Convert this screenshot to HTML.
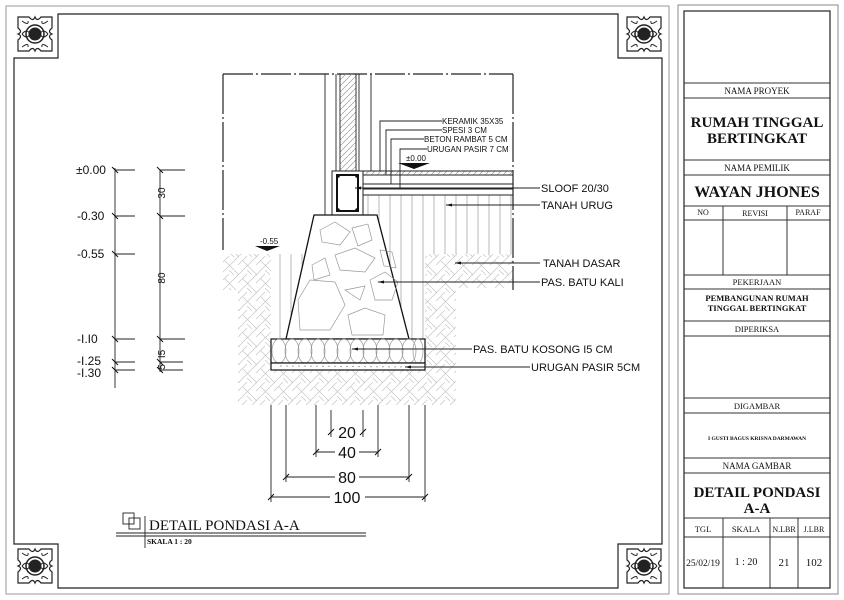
<!DOCTYPE html>
<html><head><meta charset="utf-8"><style>
html,body{margin:0;padding:0;background:#fff;}
svg{display:block;}
.s{font-family:"Liberation Sans",sans-serif;}
.r{font-family:"Liberation Serif",serif;}
</style></head><body>
<svg width="844" height="600" viewBox="0 0 844 600" xmlns="http://www.w3.org/2000/svg">
<defs>
<pattern id="ground" width="18" height="18" patternUnits="userSpaceOnUse">
<path d="M0,9 L9,0 M4,13 L13,4 M9,18 L18,9 M9,9 L18,18 M13,0 L18,5 M0,0 L5,5" stroke="#c4c4c4" stroke-width="0.7" fill="none"/>
</pattern>
<pattern id="vert" width="11" height="10" patternUnits="userSpaceOnUse">
<path d="M5,0 V10" stroke="#999" stroke-width="0.7"/>
</pattern>
<pattern id="diag" width="6" height="6" patternUnits="userSpaceOnUse">
<path d="M0,6 L6,0" stroke="#999" stroke-width="0.7"/>
</pattern>
<g id="orn">
<rect x="0" y="0" width="40" height="40" fill="#fff"/>
<path d="M3,3 H14 Q18,8 20,3 Q22,8 26,3 H37 V14 Q32,18 37,20 Q32,22 37,26 V37 H26 Q22,32 20,37 Q18,32 14,37 H3 V26 Q8,22 3,20 Q8,18 3,14 Z" fill="none" stroke="#222" stroke-width="1.2"/>
<path d="M7,7 Q14,12 13,7 M33,7 Q26,12 27,7 M7,33 Q14,28 13,33 M33,33 Q26,28 27,33 M7,20 Q12,14 15,20 Q12,26 7,20 M33,20 Q28,14 25,20 Q28,26 33,20" fill="none" stroke="#222" stroke-width="1"/>
<circle cx="20" cy="20" r="9" fill="none" stroke="#222" stroke-width="1.5"/>
<circle cx="20" cy="20" r="6.5" fill="#222"/>
</g>
</defs>

<rect x="6" y="6" width="663" height="588" fill="none" stroke="#999" stroke-width="1"/>
<path d="M58,14 H618 V58 H662 V544 H618 V588 H58 V544 H14 V58 H58 Z" fill="none" stroke="#222" stroke-width="1.2"/>
<use href="#orn" x="15" y="14"/>
<use href="#orn" x="624" y="14"/>
<use href="#orn" x="15" y="546"/>
<use href="#orn" x="624" y="546"/>

<rect x="678" y="5" width="160" height="589" fill="none" stroke="#888" stroke-width="1"/>
<rect x="684" y="11" width="146" height="577" fill="none" stroke="#222" stroke-width="1.2"/>
<g stroke="#333" stroke-width="1">
<line x1="684" y1="83" x2="830" y2="83"/><line x1="684" y1="98" x2="830" y2="98"/>
<line x1="684" y1="160" x2="830" y2="160"/><line x1="684" y1="175" x2="830" y2="175"/>
<line x1="684" y1="206" x2="830" y2="206"/><line x1="684" y1="220" x2="830" y2="220"/>
<line x1="684" y1="275" x2="830" y2="275"/><line x1="684" y1="289" x2="830" y2="289"/>
<line x1="684" y1="321" x2="830" y2="321"/><line x1="684" y1="336" x2="830" y2="336"/>
<line x1="684" y1="398" x2="830" y2="398"/><line x1="684" y1="413" x2="830" y2="413"/>
<line x1="684" y1="458" x2="830" y2="458"/><line x1="684" y1="473" x2="830" y2="473"/>
<line x1="684" y1="518" x2="830" y2="518"/><line x1="684" y1="537" x2="830" y2="537"/>
<line x1="723" y1="206" x2="723" y2="275"/><line x1="787" y1="206" x2="787" y2="275"/>
<line x1="723" y1="518" x2="723" y2="588"/><line x1="770" y1="518" x2="770" y2="588"/><line x1="798" y1="518" x2="798" y2="588"/>
</g>
<g class="r" text-anchor="middle" fill="#111">
<text x="757" y="94" font-size="9">NAMA PROYEK</text>
<text x="757" y="127" font-size="15" font-weight="bold">RUMAH TINGGAL</text>
<text x="757" y="143" font-size="15" font-weight="bold">BERTINGKAT</text>
<text x="757" y="171" font-size="9">NAMA PEMILIK</text>
<text x="757" y="197" font-size="16" font-weight="bold">WAYAN JHONES</text>
<text x="703" y="215" font-size="8">NO</text>
<text x="755" y="216" font-size="8">REVISI</text>
<text x="808" y="215" font-size="8">PARAF</text>
<text x="757" y="285" font-size="8.5">PEKERJAAN</text>
<text x="757" y="301" font-size="8.5" font-weight="bold">PEMBANGUNAN RUMAH</text>
<text x="757" y="311" font-size="8.5" font-weight="bold">TINGGAL  BERTINGKAT</text>
<text x="757" y="332" font-size="8.5">DIPERIKSA</text>
<text x="757" y="409" font-size="8.5">DIGAMBAR</text>
<text x="757" y="440" font-size="5.5" font-weight="bold">I GUSTI BAGUS KRISNA DARMAWAN</text>
<text x="757" y="469" font-size="9">NAMA GAMBAR</text>
<text x="757" y="497" font-size="15" font-weight="bold">DETAIL PONDASI</text>
<text x="757" y="513" font-size="15" font-weight="bold">A-A</text>
<text x="703" y="532" font-size="8.5">TGL</text>
<text x="746" y="532" font-size="8.5">SKALA</text>
<text x="784" y="532" font-size="8">N.LBR</text>
<text x="814" y="532" font-size="8">J.LBR</text>
<text x="703" y="566" font-size="9.5">25/02/19</text>
<text x="746" y="565" font-size="10">1 : 20</text>
<text x="784" y="566" font-size="11">21</text>
<text x="814" y="566" font-size="11">102</text>
</g>

<path d="M223,254 H271 V369 H425 V254 H513 V288 H456 V405 H238 V290 H223 Z" fill="url(#ground)"/>
<rect x="363" y="195" width="150" height="59" fill="url(#vert)"/>
<path d="M271,254 H425 V339 H409 L377,215 H363 V254 Z" fill="url(#vert)"/>
<path d="M271,254 H314 L286,339 H271 Z" fill="url(#vert)"/>

<g stroke="#222" stroke-width="1.2" fill="none">
<path d="M223,74 H513" stroke-dasharray="30,3,2,3"/>
<path d="M223,74 V250" stroke-dasharray="40,3,2,3"/>
<path d="M513,74 V290" stroke-dasharray="40,3,2,3"/>
</g>
<rect x="340" y="74" width="16" height="97" fill="url(#diag)"/>
<g stroke="#222" stroke-width="0.9">
<line x1="325" y1="74" x2="325" y2="215"/><line x1="336" y1="74" x2="336" y2="171"/>
<line x1="340" y1="74" x2="340" y2="171"/><line x1="356" y1="74" x2="356" y2="171"/>
<line x1="359" y1="74" x2="359" y2="171"/><line x1="371" y1="74" x2="371" y2="171"/>
</g>
<rect x="363" y="171" width="150" height="4" fill="url(#diag)"/>
<g stroke="#222" stroke-width="0.9">
<line x1="363" y1="171" x2="513" y2="171"/><line x1="363" y1="175" x2="513" y2="175"/>
<line x1="363" y1="184" x2="513" y2="184"/><line x1="363" y1="189" x2="513" y2="189"/>
<line x1="363" y1="195" x2="513" y2="195"/>
</g>
<rect x="332" y="171" width="31" height="44" fill="#fff" stroke="#222" stroke-width="1"/>
<rect x="337" y="175" width="21" height="36" fill="none" stroke="#111" stroke-width="2"/>
<g fill="#111"><circle cx="338" cy="176" r="1.8"/><circle cx="357" cy="176" r="1.8"/><circle cx="338" cy="210" r="1.8"/><circle cx="357" cy="210" r="1.8"/></g>
<path d="M314,215 H377 L409,339 H286 Z" fill="#fff" stroke="#111" stroke-width="1.3"/>
<g stroke="#999" stroke-width="0.7" fill="none">
<path d="M320,230 L335,222 L350,232 L340,245 L322,242 Z"/>
<path d="M352,228 L368,224 L372,240 L358,246 Z"/>
<path d="M335,255 L355,248 L375,258 L365,272 L340,270 Z"/>
<path d="M370,280 L385,272 L398,282 L392,300 L375,300 Z"/>
<path d="M298,300 L310,280 L335,282 L345,305 L330,330 L300,330 Z"/>
<path d="M345,290 L365,286 L360,300 Z"/>
<path d="M348,315 L365,308 L385,315 L383,335 L352,335 Z"/>
<path d="M312,265 L325,258 L330,275 L314,280 Z"/>
<path d="M380,250 L392,252 L396,268 L384,266 Z"/>
</g>
<rect x="271" y="339" width="154" height="24" fill="#fff" stroke="#111" stroke-width="1.2"/>
<g stroke="#999" stroke-width="0.7" fill="none">
<ellipse cx="279" cy="351" rx="7" ry="12"/><ellipse cx="292" cy="351" rx="7" ry="12"/><ellipse cx="305" cy="351" rx="7" ry="12"/><ellipse cx="318" cy="351" rx="7" ry="12"/><ellipse cx="331" cy="351" rx="7" ry="12"/><ellipse cx="344" cy="351" rx="7" ry="12"/><ellipse cx="357" cy="351" rx="7" ry="12"/><ellipse cx="370" cy="351" rx="7" ry="12"/><ellipse cx="383" cy="351" rx="7" ry="12"/><ellipse cx="396" cy="351" rx="7" ry="12"/><ellipse cx="409" cy="351" rx="7" ry="12"/><ellipse cx="418" cy="351" rx="5" ry="12"/>
</g>
<rect x="271" y="363" width="154" height="7" fill="#fff" stroke="#111" stroke-width="1.2"/>
<line x1="280" y1="366" x2="415" y2="367" stroke="#aaa" stroke-dasharray="2,4"/>

<g stroke="#222" stroke-width="0.9" fill="none">
<path d="M442,121 H380 V171"/><path d="M442,130 H386 V175"/><path d="M424,139 H391 V184"/><path d="M427,149 H400 V189"/>
<path d="M540,188 H355"/><path d="M540,205 H446"/><path d="M540,263 H455"/><path d="M540,282 H378"/>
<path d="M472,349 H352"/><path d="M530,367 H405"/>
</g>
<g fill="#111">
<path d="M398,163 H430 L414,169 Z"/>
<path d="M255,246 H280 L267,251 Z"/>
<path d="M355,188 l6,-1.5 v3 Z"/><path d="M446,205 l6,-1.5 v3 Z"/><path d="M455,263 l6,-1.5 v3 Z"/><path d="M378,282 l6,-1.5 v3 Z"/><path d="M352,349 l6,-1.5 v3 Z"/><path d="M405,367 l6,-1.5 v3 Z"/>
</g>
<g class="s" font-size="8" fill="#111">
<text x="442" y="124">KERAMIK 35X35</text>
<text x="442" y="133">SPESI 3 CM</text>
<text x="424" y="142">BETON RAMBAT 5 CM</text>
<text x="427" y="152">URUGAN PASIR 7 CM</text>
<text x="406" y="161">±0.00</text>
<text x="260" y="244">-0.55</text>
</g>
<g class="s" font-size="11" fill="#111">
<text x="541" y="192">SLOOF 20/30</text>
<text x="541" y="209">TANAH URUG</text>
<text x="543" y="267">TANAH DASAR</text>
<text x="541" y="286">PAS. BATU KALI</text>
<text x="473" y="353">PAS. BATU KOSONG I5 CM</text>
<text x="531" y="371">URUGAN PASIR 5CM</text>
</g>

<g stroke="#222" stroke-width="0.9">
<line x1="115" y1="168" x2="115" y2="388"/>
<line x1="115" y1="170" x2="135" y2="170"/><line x1="115" y1="216" x2="135" y2="216"/><line x1="115" y1="254" x2="135" y2="254"/>
<line x1="115" y1="339" x2="135" y2="339"/><line x1="115" y1="362" x2="135" y2="362"/><line x1="115" y1="370" x2="135" y2="370"/>
<line x1="160" y1="170" x2="160" y2="372"/>
<line x1="160" y1="170" x2="185" y2="170"/><line x1="160" y1="216" x2="185" y2="216"/><line x1="160" y1="339" x2="185" y2="339"/>
<line x1="160" y1="362" x2="183" y2="362"/><line x1="160" y1="370" x2="183" y2="370"/>
</g>
<g stroke="#111" stroke-width="1">
<path d="M112,167 l6,6 M112,213 l6,6 M112,251 l6,6 M112,336 l6,6 M112,359 l6,6 M112,367 l6,6"/>
<path d="M157,167 l6,6 M157,213 l6,6 M157,336 l6,6 M157,359 l6,6 M157,367 l6,6"/>
</g>
<g class="s" font-size="12" fill="#111">
<text x="76" y="174">±0.00</text>
<text x="77" y="220">-0.30</text>
<text x="77" y="258">-0.55</text>
<text x="77" y="343">-I.I0</text>
<text x="77" y="365">-I.25</text>
<text x="77" y="377">-I.30</text>
</g>
<g class="s" font-size="10" fill="#111" text-anchor="middle">
<text transform="translate(165,193) rotate(-90)">30</text>
<text transform="translate(165,278) rotate(-90)">80</text>
<text transform="translate(165,354) rotate(-90)">I5</text>
<text transform="translate(165,367) rotate(-90)">5</text>
</g>

<g stroke="#222" stroke-width="0.9">
<line x1="271" y1="405" x2="271" y2="502"/><line x1="425" y1="405" x2="425" y2="502"/>
<line x1="286" y1="405" x2="286" y2="482"/><line x1="409" y1="405" x2="409" y2="482"/>
<line x1="316" y1="405" x2="316" y2="457"/><line x1="378" y1="405" x2="378" y2="457"/>
<line x1="331" y1="410" x2="331" y2="437"/><line x1="363" y1="410" x2="363" y2="437"/>
<line x1="316" y1="452" x2="335" y2="452"/><line x1="359" y1="452" x2="378" y2="452"/>
<line x1="286" y1="477" x2="335" y2="477"/><line x1="359" y1="477" x2="409" y2="477"/>
<line x1="271" y1="497" x2="330" y2="497"/><line x1="365" y1="497" x2="425" y2="497"/>
</g>
<g stroke="#111" stroke-width="1">
<path d="M328,435 l6,-6 M360,435 l6,-6 M313,455 l6,-6 M375,455 l6,-6 M283,480 l6,-6 M406,480 l6,-6 M268,500 l6,-6 M422,500 l6,-6"/>
</g>
<g class="s" font-size="16" fill="#111" text-anchor="middle">
<text x="347" y="438">20</text>
<text x="347" y="458">40</text>
<text x="347" y="483">80</text>
<text x="347" y="503">100</text>
</g>

<g stroke="#222" stroke-width="0.9" fill="none">
<rect x="123" y="513" width="11" height="11"/><rect x="129" y="518" width="11" height="11"/>
<line x1="116" y1="533" x2="366" y2="533"/><line x1="116" y1="536" x2="366" y2="536"/>
<line x1="145" y1="516" x2="145" y2="548"/>
</g>
<text class="r" x="149" y="530" font-size="15" fill="#111">DETAIL PONDASI A-A</text>
<text class="r" x="147" y="544" font-size="7.5" font-weight="bold" fill="#111">SKALA 1 : 20</text>
</svg>
</body></html>
